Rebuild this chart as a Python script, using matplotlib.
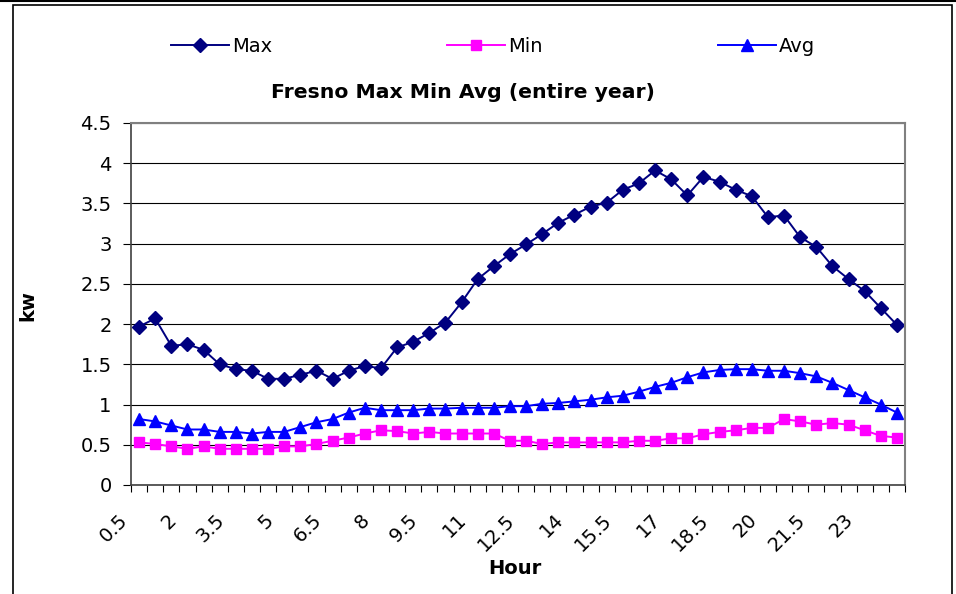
import matplotlib
matplotlib.use('Agg')
import matplotlib.pyplot as plt
from matplotlib.transforms import ScaledTranslation
from matplotlib.patches import Rectangle
from matplotlib.lines import Line2D

plt.rcParams['font.family'] = ['DejaVu Sans']

# data
hours = [0.5, 1, 1.5, 2, 2.5, 3, 3.5, 4, 4.5, 5, 5.5, 6,
         6.5, 7, 7.5, 8, 8.5, 9, 9.5, 10, 10.5, 11, 11.5, 12,
         12.5, 13, 13.5, 14, 14.5, 15, 15.5, 16, 16.5, 17, 17.5, 18,
         18.5, 19, 19.5, 20, 20.5, 21, 21.5, 22, 22.5, 23, 23.5, 24]
kw_max = [1.97, 2.07, 1.73, 1.75, 1.68, 1.50, 1.44, 1.42, 1.32, 1.32, 1.37, 1.42,
          1.32, 1.42, 1.48, 1.45, 1.71, 1.78, 1.89, 2.02, 2.27, 2.56, 2.72, 2.87,
          2.99, 3.12, 3.26, 3.36, 3.46, 3.51, 3.67, 3.75, 3.91, 3.80, 3.60, 3.83,
          3.77, 3.67, 3.59, 3.33, 3.35, 3.08, 2.96, 2.72, 2.56, 2.41, 2.20, 1.99]
kw_min = [0.53, 0.51, 0.48, 0.45, 0.48, 0.45, 0.45, 0.45, 0.45, 0.48, 0.48, 0.51,
          0.55, 0.59, 0.64, 0.68, 0.67, 0.64, 0.66, 0.64, 0.64, 0.64, 0.64, 0.55,
          0.55, 0.51, 0.53, 0.53, 0.53, 0.53, 0.53, 0.55, 0.55, 0.58, 0.58, 0.63,
          0.66, 0.68, 0.71, 0.71, 0.82, 0.79, 0.75, 0.77, 0.75, 0.68, 0.61, 0.59]
kw_avg = [0.82, 0.79, 0.74, 0.69, 0.69, 0.66, 0.66, 0.64, 0.66, 0.66, 0.72, 0.78,
          0.82, 0.90, 0.96, 0.93, 0.93, 0.93, 0.95, 0.95, 0.96, 0.96, 0.96, 0.98,
          0.98, 1.01, 1.02, 1.04, 1.06, 1.09, 1.11, 1.16, 1.22, 1.27, 1.34, 1.40,
          1.43, 1.44, 1.44, 1.42, 1.42, 1.39, 1.35, 1.27, 1.18, 1.09, 1.00, 0.90]

W, H = 956, 594
fig = plt.figure(figsize=(W/100, H/100), dpi=100)

# outer chart frame
fig.add_artist(Line2D([0, 1], [1-0.8/H, 1-0.8/H], color='black', lw=1.5, transform=fig.transFigure))
fig.add_artist(Rectangle((13/W, -0.05), (952-13)/W, 1.05-4.5/H, fill=False,
                         edgecolor='black', lw=1.2, transform=fig.transFigure))

ax = fig.add_axes([131/W, 1-485/H, (905-131)/W, (485-123)/H])

x = list(range(len(hours)))
ax.plot(x, kw_max, color='#000080', marker='D', ms=7, lw=1.4, label='Max')
ax.plot(x, kw_min, color='#FF00FF', marker='s', ms=7.5, lw=1.4, label='Min')
ax.plot(x, kw_avg, color='#0000FF', marker='^', ms=9, lw=1.4, label='Avg')

ax.set_xlim(-0.5, len(hours)-0.5)
ax.set_ylim(0, 4.5)
ax.set_yticks([i*0.5 for i in range(10)])
ax.set_yticklabels(['%g' % (i*0.5) for i in range(10)])
ax.grid(axis='y', color='black', lw=0.8)
ax.set_axisbelow(True)

ax.set_xticks(x[::3])
ax.set_xticklabels(['%g' % h for h in hours[::3]], rotation=45, ha='right',
                   va='center', rotation_mode='anchor')
ax.set_xticks([i - 0.5 for i in range(len(hours)+1)], minor=True)
ax.tick_params(axis='x', which='major', length=0, pad=23, labelsize=14)
ax.tick_params(axis='x', which='minor', length=5, width=0.8, direction='out')
ax.tick_params(axis='y', length=6, width=0.8, pad=8, labelsize=14)
off = ScaledTranslation(-14/100, 0, fig.dpi_scale_trans)
for lab in ax.get_xticklabels():
    lab.set_transform(lab.get_transform() + off)

for s in ['top', 'right']:
    ax.spines[s].set_color('#808080')
    ax.spines[s].set_linewidth(1.5)
for s in ['left', 'bottom']:
    ax.spines[s].set_color('#404040')
    ax.spines[s].set_linewidth(1.2)

fig.text(463/W, 1-93/H, 'Fresno Max Min Avg (entire year)', ha='center', va='center',
         fontsize=14.7, fontweight='bold')
fig.text(515/W, 1-568/H, 'Hour', ha='center', va='center', fontsize=14, fontweight='bold')
fig.text(28/W, 1-306/H, 'kw', ha='center', va='center', rotation=90, fontsize=14,
         fontweight='bold')

fig.legend(loc='center', bbox_to_anchor=(493/W, 1-46/H), ncol=3, frameon=False,
           fontsize=14, handlelength=3.0, handletextpad=0.15, columnspacing=9.0)

fig.savefig('out.png', dpi=100)
